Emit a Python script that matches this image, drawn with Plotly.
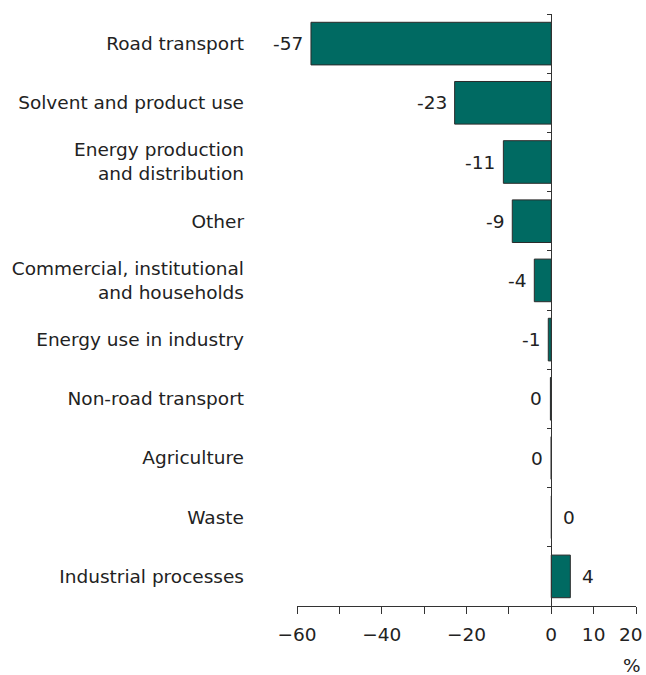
import plotly.graph_objects as go

categories = ["Road transport", "Solvent and product use",
              "Energy production<br>and distribution", "Other",
              "Commercial, institutional<br>and households",
              "Energy use in industry", "Non-road transport",
              "Agriculture", "Waste", "Industrial processes"]
values = [-56.7, -22.8, -11.3, -9.2, -4.0, -0.7, -0.2, -0.02, 0.05, 4.5]
value_labels = ["-57", "-23", "-11", "-9", "-4", "-1", "0", "0", "0", "4"]

x_tickvals = [-60, -50, -40, -30, -20, -10, 0, 10, 20]
x_ticktext = ["\u221260", "", "\u221240", "", "\u221220", "", "0", "10", "20"]

FONT = "DejaVu Sans"
FS = 18.5
BAR = "#006a62"

n = len(categories)
pos = list(range(n))

fig = go.Figure()
fig.add_trace(go.Bar(
    x=values, y=pos, orientation="h",
    marker=dict(color=BAR, line=dict(color="#2b2b2b", width=1)),
    width=0.72, hoverinfo="skip", showlegend=False,
))
# invisible trace on yaxis2 (zero line with boundary ticks)
fig.add_trace(go.Scatter(x=[0], y=[0], yaxis="y2", mode="markers",
                         marker=dict(opacity=0), showlegend=False,
                         hoverinfo="skip"))

for i, (v, t) in enumerate(zip(values, value_labels)):
    neg = v <= 0
    fig.add_annotation(
        x=v, y=i, text=t, showarrow=False,
        xanchor="right" if neg else "left",
        xshift=-6 if neg else 10,
        font=dict(family=FONT, size=FS, color="#222"),
    )

# last tick label drawn slightly inside so it is not clipped at the edge
fig.add_annotation(x=x_tickvals[-1], y=0, xref="x", yref="paper",
                   text=x_ticktext[-1], showarrow=False,
                   xanchor="center", yanchor="middle", xshift=-5, yshift=-28,
                   font=dict(family=FONT, size=FS, color="#222"))
shown_ticktext = x_ticktext[:-1] + [""]

fig.add_annotation(x=1.0, y=-0.1, xref="paper", yref="paper", text="%",
                   showarrow=False, xanchor="right", yanchor="middle",
                   xshift=7,
                   font=dict(family=FONT, size=FS, color="#222"))

fig.update_layout(
    template="none",
    width=646, height=675,
    margin=dict(l=297, r=10, t=14, b=69),
    paper_bgcolor="white", plot_bgcolor="white",
    font=dict(family=FONT, size=FS, color="#222"),
    bargap=0.28,
    xaxis=dict(range=[-60, 20], tickvals=x_tickvals, ticktext=shown_ticktext,
               ticks="outside", ticklen=7, tickcolor="#333", tickwidth=1,
               ticklabelstandoff=5, ticklabeloverflow="allow",
               automargin=False,
               showline=True, linecolor="#333", linewidth=1,
               showgrid=False, zeroline=False,
               tickfont=dict(family=FONT, size=FS, color="#222")),
    yaxis=dict(range=[n - 0.5, -0.5], tickvals=pos, ticktext=categories,
               showline=False, showgrid=False, zeroline=False, ticks="",
               ticklabelstandoff=52, automargin=False,
               tickfont=dict(family=FONT, size=FS, color="#222")),
    yaxis2=dict(range=[n - 0.5, -0.5], overlaying="y", anchor="free",
                position=0.75, side="left", automargin=False,
                tickvals=[i - 0.5 for i in range(n + 1)],
                showticklabels=False, ticks="outside", ticklen=4,
                tickcolor="#333", showline=True, linecolor="#333",
                linewidth=1, showgrid=False, zeroline=False),
)

fig.write_html("out.html", config={"displayModeBar": False},
               post_script="document.body.style.margin='0';")
